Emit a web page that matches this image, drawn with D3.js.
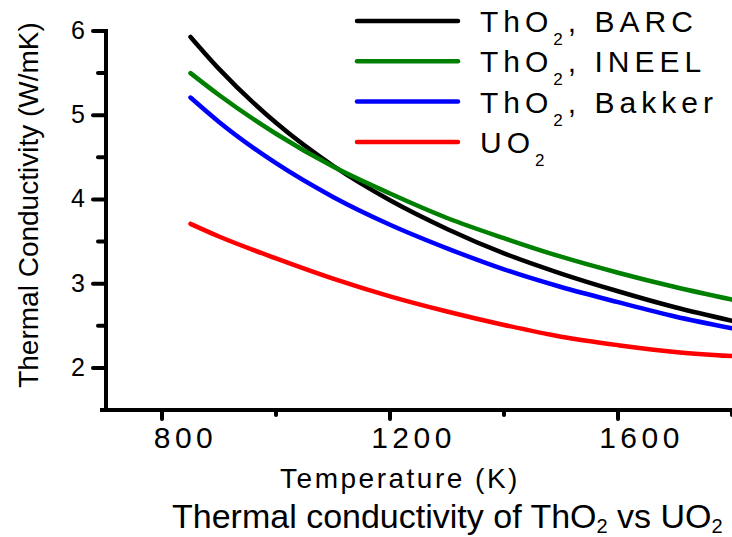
<!DOCTYPE html>
<html>
<head>
<meta charset="utf-8">
<script src="https://cdn.jsdelivr.net/npm/d3@7"></script>
<style>
  body { margin: 0; background: #fff; overflow: hidden; }
  svg { display: block; }
  text { font-family: "Liberation Sans", Arial, sans-serif; fill: #000; }
</style>
</head>
<body>
<div id="chart"></div>
<script>
var svgWidth = 732;
var svgHeight = 537;

// temperature samples (K) and conductivity values (W/mK)
var temps = [850, 900, 1000, 1100, 1200, 1300, 1400, 1500, 1600, 1700, 1800];
var barc = [5.93, 5.55, 4.91, 4.40, 3.99, 3.65, 3.36, 3.12, 2.91, 2.72, 2.56];
var ineel = [5.50, 5.24, 4.78, 4.39, 4.07, 3.78, 3.54, 3.32, 3.13, 2.96, 2.81];
var bakker = [5.21, 4.92, 4.43, 4.03, 3.70, 3.42, 3.17, 2.96, 2.78, 2.61, 2.47];
var uo2 = [3.71, 3.56, 3.30, 3.06, 2.85, 2.67, 2.51, 2.37, 2.27, 2.19, 2.14];

var xMajor = [800, 1200, 1600];
var xMinor = [1000, 1400, 1800];
var yMajor = [2, 3, 4, 5, 6];
var yMinor = [2.5, 3.5, 4.5, 5.5];

var seriesNames = ["BARC", "INEEL", "Bakker", "UO2"];
var seriesColors = ["#000000", "#008000", "#0000ff", "#ff0000"];
var seriesValues = [barc, ineel, bakker, uo2];

var svg = d3.select("#chart")
  .append("svg")
  .attr("width", svgWidth)
  .attr("height", svgHeight);

var xScale = d3.scaleLinear().domain([700, 1800]).range([105, 732]);
var yScale = d3.scaleLinear().domain([1.5, 6]).range([410, 31]);

// curves
var lineGen = d3.line()
  .x(d => xScale(d[0]))
  .y(d => yScale(d[1]))
  .curve(d3.curveMonotoneX);

seriesValues.forEach(function(vals, i) {
  svg.append("path")
    .datum(temps.map((t, j) => [t, vals[j]]))
    .attr("fill", "none")
    .attr("stroke", seriesColors[i])
    .attr("stroke-width", 4.5)
    .attr("stroke-linecap", "round")
    .attr("d", lineGen);
});

// tick labels from d3 axes
var xAxis = svg.append("g")
  .attr("transform", "translate(0,410)")
  .call(d3.axisBottom(xScale).tickValues(xMajor).tickSize(0).tickFormat(d3.format("d")));
xAxis.select(".domain").remove();
xAxis.selectAll(".tick line").remove();
xAxis.selectAll(".tick text")
  .attr("y", 38)
  .attr("dy", 0)
  .attr("dx", 23)
  .attr("fill", "#000")
  .style("font-family", "'Liberation Sans', Arial, sans-serif")
  .style("font-size", "30px")
  .style("letter-spacing", "4.5px");

var yAxis = svg.append("g")
  .attr("transform", "translate(106,0)")
  .call(d3.axisLeft(yScale).tickValues(yMajor).tickSize(0).tickFormat(d3.format("d")));
yAxis.select(".domain").remove();
yAxis.selectAll(".tick line").remove();
yAxis.selectAll(".tick text")
  .attr("x", -21)
  .attr("dy", "0.3em")
  .attr("fill", "#000")
  .style("font-family", "'Liberation Sans', Arial, sans-serif")
  .style("font-size", "25px");

// axis titles
svg.append("text")
  .attr("x", 400)
  .attr("y", 488)
  .attr("text-anchor", "middle")
  .style("font-size", "28px")
  .style("letter-spacing", "2.5px")
  .text("Temperature (K)");

svg.append("text")
  .attr("transform", "rotate(-90)")
  .attr("x", -205)
  .attr("y", 38)
  .attr("text-anchor", "middle")
  .style("font-size", "28px")
  .text("Thermal Conductivity (W/mK)");

// caption below the chart
var caption = svg.append("text")
  .attr("x", 172)
  .attr("y", 528)
  .style("font-size", "34px");
caption.append("tspan").text("Thermal conductivity of ThO");
caption.append("tspan").attr("dy", 5).style("font-size", "20px").text("2");
caption.append("tspan").attr("dy", -5).text(" vs UO");
caption.append("tspan").attr("dy", 5).style("font-size", "20px").text("2");

// legend
var legend = svg.append("g");

seriesNames.forEach(function(name, i) {
  var yLine = 21 + i * 40.3;
  legend.append("line")
    .attr("x1", 357)
    .attr("x2", 458)
    .attr("y1", yLine)
    .attr("y2", yLine)
    .attr("stroke", seriesColors[i])
    .attr("stroke-width", 4.5)
    .attr("stroke-linecap", "round");

  var label = legend.append("text")
    .attr("x", 480)
    .attr("y", yLine + 11)
    .style("font-size", "30px")
    .style("letter-spacing", "5px");

  if (name === "UO2") {
    label.append("tspan").text("UO");
    label.append("tspan").attr("dy", 13).style("font-size", "17px").text("2");
  } else {
    label.append("tspan").text("ThO");
    label.append("tspan").attr("dy", 13).style("font-size", "17px").text("2");
    label.append("tspan").attr("dy", -13).text(", " + name);
  }
});

// axis frame and tick marks as filled shapes, drawn last
var frame = svg.append("g").attr("fill", "#000");

frame.append("rect")
  .attr("x", 104).attr("y", 29)
  .attr("width", 4).attr("height", 383);
frame.append("rect")
  .attr("x", 100).attr("y", 408)
  .attr("width", 632).attr("height", 4);

function xTicks(vals, len) {
  frame.selectAll(null)
    .data(vals)
    .enter()
    .append("rect")
    .attr("x", d => xScale(d) - 2)
    .attr("y", 408)
    .attr("width", 4)
    .attr("height", len + 4)
    .attr("rx", 2);
}

function yTicks(vals, len) {
  frame.selectAll(null)
    .data(vals)
    .enter()
    .append("rect")
    .attr("x", 106 - len - 2)
    .attr("y", d => yScale(d) - 2)
    .attr("width", len + 4)
    .attr("height", 4)
    .attr("rx", 2);
}

xTicks(xMajor, 9);
xTicks(xMinor, 5);
yTicks(yMajor, 13);
yTicks(yMinor, 8);
</script>
</body>
</html>
